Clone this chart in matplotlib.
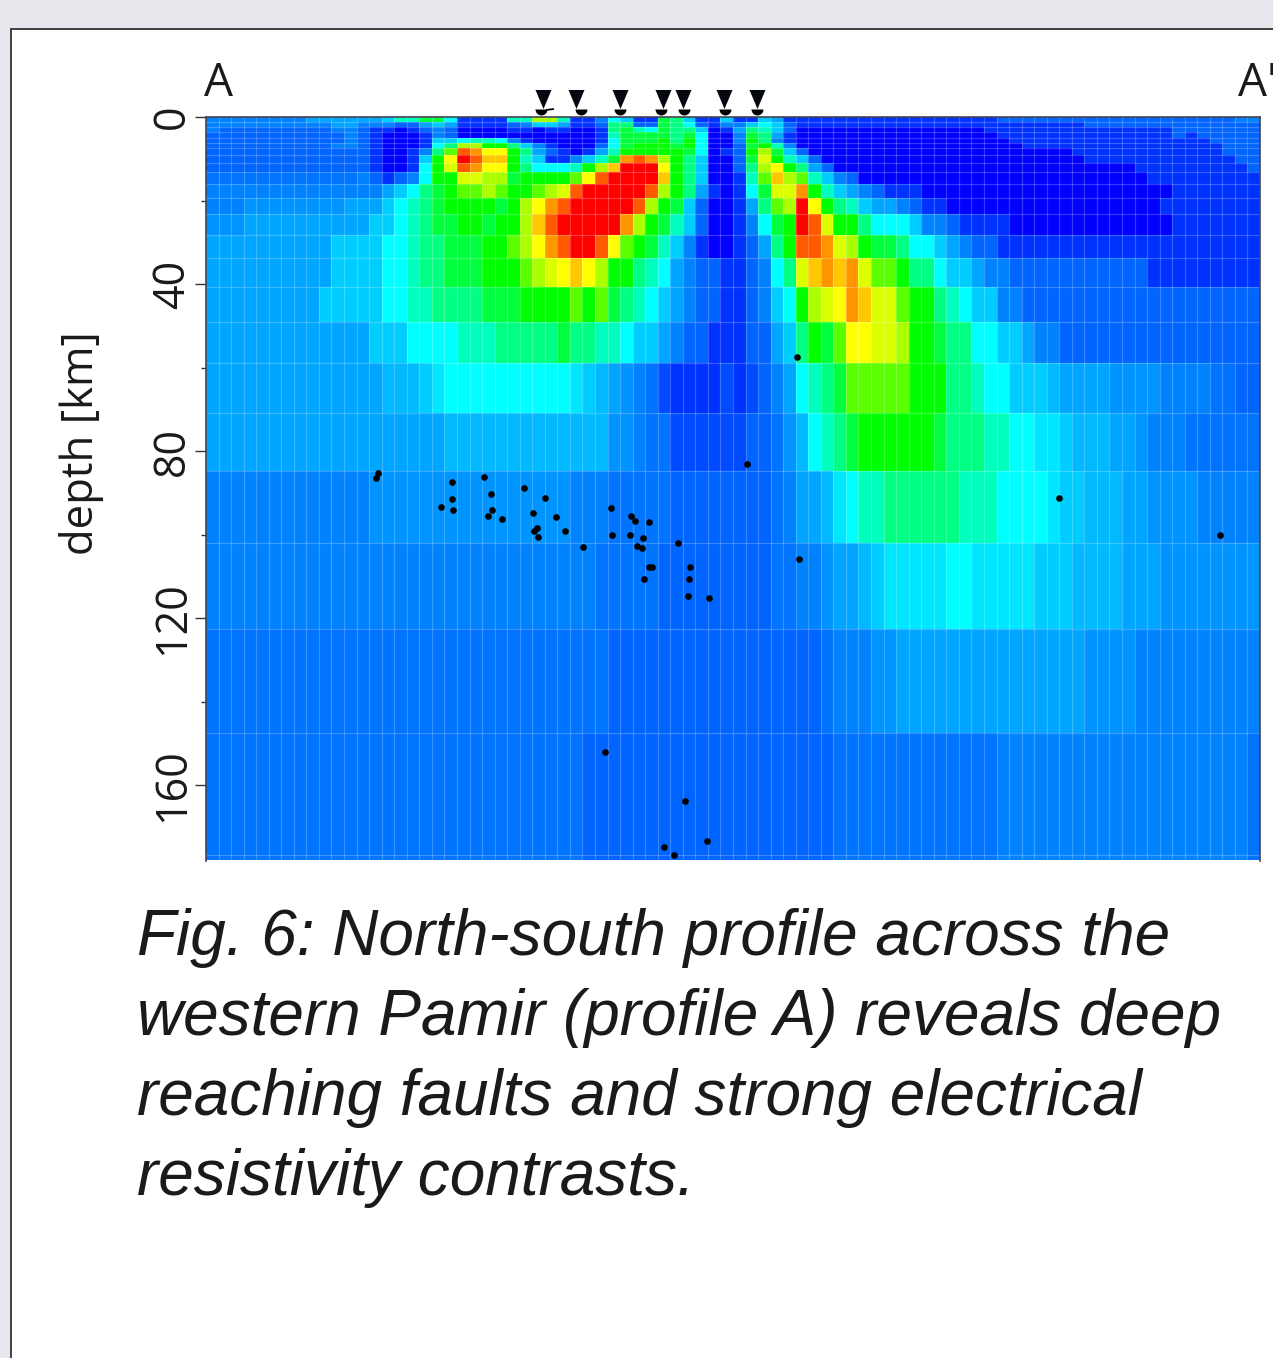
import matplotlib
matplotlib.use('Agg')
import matplotlib.pyplot as plt
from matplotlib.colors import ListedColormap
from matplotlib.patches import Rectangle
import numpy as np

W, H = 1273, 1358

# depth of the cell edges [km]
depth_edges = [0, 1.2, 2.4, 3.6, 5.0, 6.2, 7.4, 9.1, 11.0, 13.2, 16.0, 19.4, 23.2, 28.2,
               33.7, 40.7, 49.1, 58.9, 70.9, 84.8, 102.0, 122.7, 147.6, 176.8, 178.0]

# resistivity levels, one string per layer, 84 columns
layers = [
    "333333 334444 445779 961111 77cc71 136511 985115 115411 111111 111111 111222 222222 222222 222233",
    "333333 333344 333224 541111 235541 128822 986213 356521 111111 111111 111111 111122 222222 222222",
    "322222 222233 211012 320000 110110 018976 988501 487520 000000 000000 001111 111111 111112 222222",
    "222222 222223 210001 320000 000000 017999 989600 398410 000000 000000 000111 111111 111112 122222",
    "222222 222223 210001 556776 310000 016999 a8a600 3a8310 000000 000000 000011 111111 111111 112222",
    "222222 222233 210001 68ccaa 853100 0269aa a9a600 29a730 000000 000000 000001 111111 111111 111222",
    "222222 222222 210013 8bhgee a84210 147aaa aa9601 2ac952 000000 000000 000000 000111 111111 111222",
    "222222 222222 210015 aeihff a75113 579ghg ca8500 29da75 200000 000000 000000 000011 111111 111122",
    "222222 222222 210016 adhgee a86667 acfiii ea8500 28cea8 420000 000000 000000 000000 001111 111112",
    "BBBBBB BBBBBB 321236 aaddcc 9aaaab ehiiii fa8500 17bfcb 753200 000000 000000 000000 000111 111111",
    "333333 333333 334568 9abbcb aabcdh iiiiih ca8410 169ddg a75432 111000 000000 000000 000001 111111",
    "333CCC CCCCC4 445678 9aaaa9 aceghi iiiihc a95200 148bci ea8754 432110 000000 000000 000011 111111",
    "CCC444 444444 455678 99aa9a acfhii iiigca 975200 1369ai hdaa86 665332 111100 000000 000001 111111",
    "444444 444455 556678 8999aa bceghi iheba9 753100 1248ah hgdca9 986654 322111 111111 111111 111111",
    "444444 444455 556678 8999aa abcdef ecaa87 643221 12368d fgfgdb ba8865 543322 222222 222111 111111",
    "444444 444555 556677 888899 9aaaab ab9876 543221 12356a cdegfd dbaa87 655332 222222 222222 222222",
    "444444 444444 455566 667778 888898 877655 432211 122458 a9beed dcaa98 866554 332222 222222 222222",
    "444444 444444 44DDD5 E66666 66666E 5D4C3B A1111A 1A2346 789bbb bbaaa8 876655 5D4444 CCCC33 33BB22",
    "444444 444444 444444 4DDDDD DDDDDD DDCC3B BAAAAA A22BCD 6789aa aaaa98 887766 EE5DDD 44C333 BBBBBB",
    "333333 333333 3CCCCC CCCCCC CCCCC3 33BBBB B22222 222B34 4DE677 888888 777666 6E55DD D44CCC C33333",
    "333333 333333 333333 333333 333333 3BBBBB 222222 222BB3 3C44D5 EEEEE6 6EEEEE 555DDD D444CC CCCCCC",
    "BBBBBB BBBBBB BBBBBB BBBBBB BBBBBB BB2222 222222 222222 2B333C C44444 444444 4444CC CC3333 333333",
    "BBBBBB BBBBBB BBBBBB BBBBBB BBBBBB 222222 222222 222222 22BBBB BBBBBB BBB333 333333 333333 33333B",
    "BBBBBB BBBBBB BBBBBB BBBBBB BBBBBB 222222 222222 222222 22BBBB BBBBBB BBB333 333333 333333 33333B",
]

# colour of each level, blue to red
level_chars = "01A2B3C4D5E6789abcdefghi"
level_rgb = [(0, 0, 255), (0, 50, 255), (0, 75, 255), (0, 100, 255), (0, 115, 255), (0, 130, 255),
             (0, 148, 255), (0, 165, 255), (0, 185, 255), (0, 205, 255), (0, 230, 255), (0, 255, 255),
             (0, 255, 190), (0, 255, 130), (0, 255, 60), (0, 255, 0), (90, 255, 0), (170, 255, 0),
             (220, 255, 0), (255, 255, 0), (255, 200, 0), (255, 150, 0), (255, 90, 0), (255, 0, 0)]

# seismic events: distance along profile, depth [km]
quake_x = [171.7, 170.3, 246.3, 245.7, 235, 246.7, 278, 285, 286, 281.7, 296.3, 318, 339, 327.3, 349.7,
           330.7, 327.7, 332.3, 359, 377, 405, 406.3, 425, 429, 442.7, 424.3, 437, 430.7, 436.3, 472,
           443.3, 445.7, 483.7, 438, 483.3, 482, 503.3, 541, 399.3, 478.7, 457.7, 467.7, 501.3,
           591, 593, 853, 1014]
quake_z = [85.3, 86.5, 87.5, 91.5, 93.5, 94.2, 86.2, 90.2, 94.2, 95.6, 96.4, 88.9, 91.3, 94.9, 95.7,
           98.4, 99.1, 100.5, 99.1, 102.9, 93.7, 100.1, 95.6, 96.7, 97.0, 100.1, 100.8, 102.7, 103.2, 102.1,
           107.8, 107.9, 107.9, 110.7, 110.7, 114.7, 115.2, 83.2, 152.1, 163.8, 174.9, 176.8, 173.4,
           57.5, 105.9, 91.3, 100.1]

# stations on top of the profile
station_x = [336.7, 370, 414, 456.7, 476.7, 517.7, 551]
blob_x = [335, 374.7, 414, 455, 478, 519, 551]

yticks = [0, 40, 80, 120, 160]
yminor = [20, 60, 100, 140]

caption = ["Fig. 6: North-south profile across the",
           "western Pamir (profile A) reveals deep",
           "reaching faults and strong electrical",
           "resistivity contrasts."]
caption_base = [955, 1035, 1115, 1195]

grid = np.array([[level_chars.index(c) for c in row.replace(' ', '')] for row in layers])
print(grid.shape)

cmap = ListedColormap([(r/255, g/255, b/255) for r, g, b in level_rgb])

fig = plt.figure(figsize=(W/100, H/100), dpi=100, facecolor='#e7e8ed')
fig.add_artist(Rectangle((11/W, -0.1), 1.1, 1 - 29/H + 0.1, transform=fig.transFigure,
                         facecolor='white', edgecolor='#222222', linewidth=1.2, zorder=-1))

ax = fig.add_axes([206/W, 1 - 861/H, 1054/W, 744/H])
x_edges = np.linspace(0, 1054, grid.shape[1] + 1)
ax.pcolormesh(x_edges, depth_edges, grid, cmap=cmap, vmin=-0.5, vmax=len(level_rgb) - 0.5, shading='flat')
ax.vlines(x_edges[1:-1], 0, 178.2, color='white', alpha=0.22, linewidth=0.9)
ax.hlines(depth_edges[1:-1], 0, 1054, color='white', alpha=0.22, linewidth=0.9)
ax.plot(quake_x, quake_z, 'o', color='black', markersize=4.8, markeredgewidth=0, zorder=5)

ax.set_xlim(0, 1054)
ax.set_ylim(178.2, 0)
ax.set_xticks([])
ax.set_yticks(yticks)
ax.set_yticks(yminor, minor=True)
ax.tick_params(axis='y', which='major', length=8, width=1, color='#333333', pad=0)
ax.tick_params(axis='y', which='minor', length=3.5, width=1, color='#333333')
for lab in ax.get_yticklabels():
    lab.set(rotation=90, va='center', family='Open Sans', fontsize=31, color='#1a1a1a')
for s in ax.spines.values():
    s.set_color('#444455')
    s.set_linewidth(1.2)
ax.spines['bottom'].set_visible(False)

# station markers stick out above the axes
ax.plot(station_x, [-4.4]*7, linestyle='none', marker=[(-8, 9.5), (8, 9.5), (0, -9.5)], markersize=13.7,
        color='#05090f', markeredgewidth=0, clip_on=False, zorder=6)
ax.plot(blob_x, [-1.9]*7, linestyle='none', marker='o', fillstyle='bottom', markersize=8.6, color='black',
        markerfacecoloralt='none', markeredgewidth=0, clip_on=False, zorder=6)
ax.plot([341, 347], [-1.7, -1.9], color='black', linewidth=1.3, clip_on=False)

fig.text(81/W, 1 - 443/H, 'depth [km]', rotation=90, ha='center', va='center', family='Open Sans',
         fontsize=31.5, color='#1a1a1a')
fig.text(204/W, 1 - 96/H, 'A', family='Open Sans', fontsize=33, color='#1a1a1a')
fig.text(1238/W, 1 - 96/H, "A'", family='Open Sans', fontsize=33, color='#1a1a1a')

for line, base in zip(caption, caption_base):
    fig.text(137/W, 1 - base/H, line, family='Liberation Sans', style='italic', fontsize=46, color='#1a1a1a')

fig.savefig('out.png', dpi=100, facecolor=fig.get_facecolor())
